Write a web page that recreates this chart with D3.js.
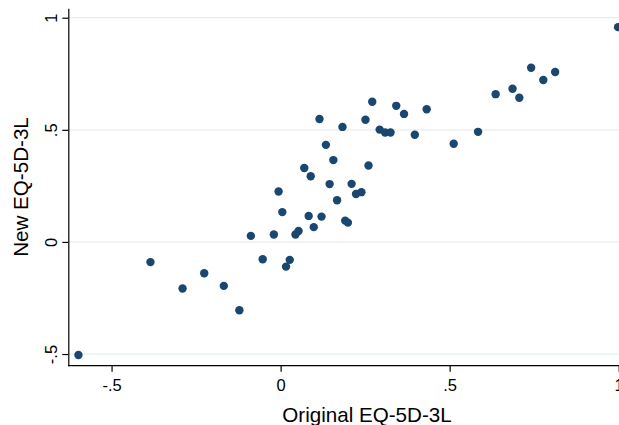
<!DOCTYPE html>
<html>
<head>
<meta charset="utf-8">
<script src="https://cdn.jsdelivr.net/npm/d3@7"></script>
<style>
  html, body { margin: 0; padding: 0; background: #ffffff; }
  svg { display: block; font-family: "Liberation Sans", Arial, sans-serif; }
</style>
</head>
<body>
<svg id="chart" width="619" height="425"></svg>
<script>
// Data
const originalEQ = [-0.598, -0.385, -0.290, -0.226, -0.168, -0.122, -0.088, -0.053, -0.020, -0.006,
  0.005, 0.016, 0.027, 0.044, 0.053, 0.070, 0.083, 0.089, 0.098, 0.115,
  0.121, 0.134, 0.145, 0.156, 0.167, 0.183, 0.191, 0.199, 0.210, 0.223,
  0.239, 0.251, 0.260, 0.271, 0.293, 0.309, 0.325, 0.342, 0.365, 0.397,
  0.432, 0.512, 0.584, 0.636, 0.686, 0.706, 0.741, 0.777, 0.812, 0.998];
const newEQ = [-0.504, -0.090, -0.208, -0.140, -0.196, -0.305, 0.027, -0.077, 0.033, 0.225,
  0.133, -0.110, -0.080, 0.033, 0.049, 0.330, 0.116, 0.293, 0.066, 0.548,
  0.113, 0.433, 0.258, 0.365, 0.186, 0.513, 0.095, 0.086, 0.259, 0.214,
  0.222, 0.545, 0.341, 0.625, 0.501, 0.488, 0.488, 0.607, 0.571, 0.478,
  0.592, 0.438, 0.491, 0.659, 0.683, 0.643, 0.777, 0.722, 0.758, 0.958];
const xTicks = [-0.5, 0, 0.5, 1];
const xTickLabels = ["-.5", "0", ".5", "1"];
const yTicks = [-0.5, 0, 0.5, 1];
const yTickLabels = ["-.5", "0", ".5", "1"];
const xTitle = "Original EQ-5D-3L";
const yTitle = "New EQ-5D-3L";

const points = originalEQ.map((v, i) => ({ x: v, y: newEQ[i] }));

const svg = d3.select("#chart");
const x = d3.scaleLinear().domain([-0.628, 1.0]).range([68.3, 618.7]);
const y = d3.scaleLinear().domain([-0.552, 1.042]).range([365.7, 8.3]);

// Gridlines
svg.append("g")
  .selectAll("line")
  .data(yTicks)
  .join("line")
  .attr("x1", x.range()[0])
  .attr("x2", 640)
  .attr("y1", d => y(d))
  .attr("y2", d => y(d))
  .attr("stroke", "#e4eeef")
  .attr("stroke-width", 1.3);

// Points
svg.append("g")
  .selectAll("circle")
  .data(points)
  .join("circle")
  .attr("cx", d => x(d.x))
  .attr("cy", d => y(d.y))
  .attr("r", 4.2)
  .attr("fill", "#1a476f");

// X axis
const xAxis = d3.axisBottom(x)
  .tickValues(xTicks)
  .tickFormat((d, i) => xTickLabels[i])
  .tickSize(6)
  .tickSizeOuter(0)
  .tickPadding(8);
const gx = svg.append("g")
  .attr("transform", `translate(0,${y.range()[0]})`)
  .call(xAxis);
gx.select(".domain").attr("d", `M${x.range()[0]},0H640`).attr("stroke", "#000").attr("stroke-width", 1.2);
gx.selectAll(".tick line").attr("stroke", "#000").attr("stroke-width", 1.2);
gx.selectAll(".tick text")
  .attr("font-size", "16.5px")
  .attr("fill", "#000")
  .attr("font-family", "'Liberation Sans', Arial, sans-serif");

// Y axis
const yAxis = d3.axisLeft(y)
  .tickValues(yTicks)
  .tickFormat((d, i) => yTickLabels[i])
  .tickSize(6)
  .tickSizeOuter(0);
const gy = svg.append("g")
  .attr("transform", `translate(${x.range()[0]},0)`)
  .call(yAxis);
gy.select(".domain").attr("stroke", "#000").attr("stroke-width", 1.2);
gy.selectAll(".tick line").attr("stroke", "#000").attr("stroke-width", 1.2);
gy.selectAll(".tick text")
  .attr("x", null)
  .attr("dy", null)
  .attr("text-anchor", "middle")
  .attr("transform", "translate(-11.3,0) rotate(-90)")
  .attr("font-size", "16.5px")
  .attr("fill", "#000")
  .attr("font-family", "'Liberation Sans', Arial, sans-serif");

// Axis titles
svg.append("text")
  .attr("x", 367)
  .attr("y", 422.3)
  .attr("text-anchor", "middle")
  .attr("font-size", "20.6px")
  .attr("fill", "#000")
  .text(xTitle);

svg.append("text")
  .attr("transform", "translate(28.3,187) rotate(-90)")
  .attr("text-anchor", "middle")
  .attr("font-size", "20.6px")
  .attr("fill", "#000")
  .text(yTitle);
</script>
</body>
</html>
